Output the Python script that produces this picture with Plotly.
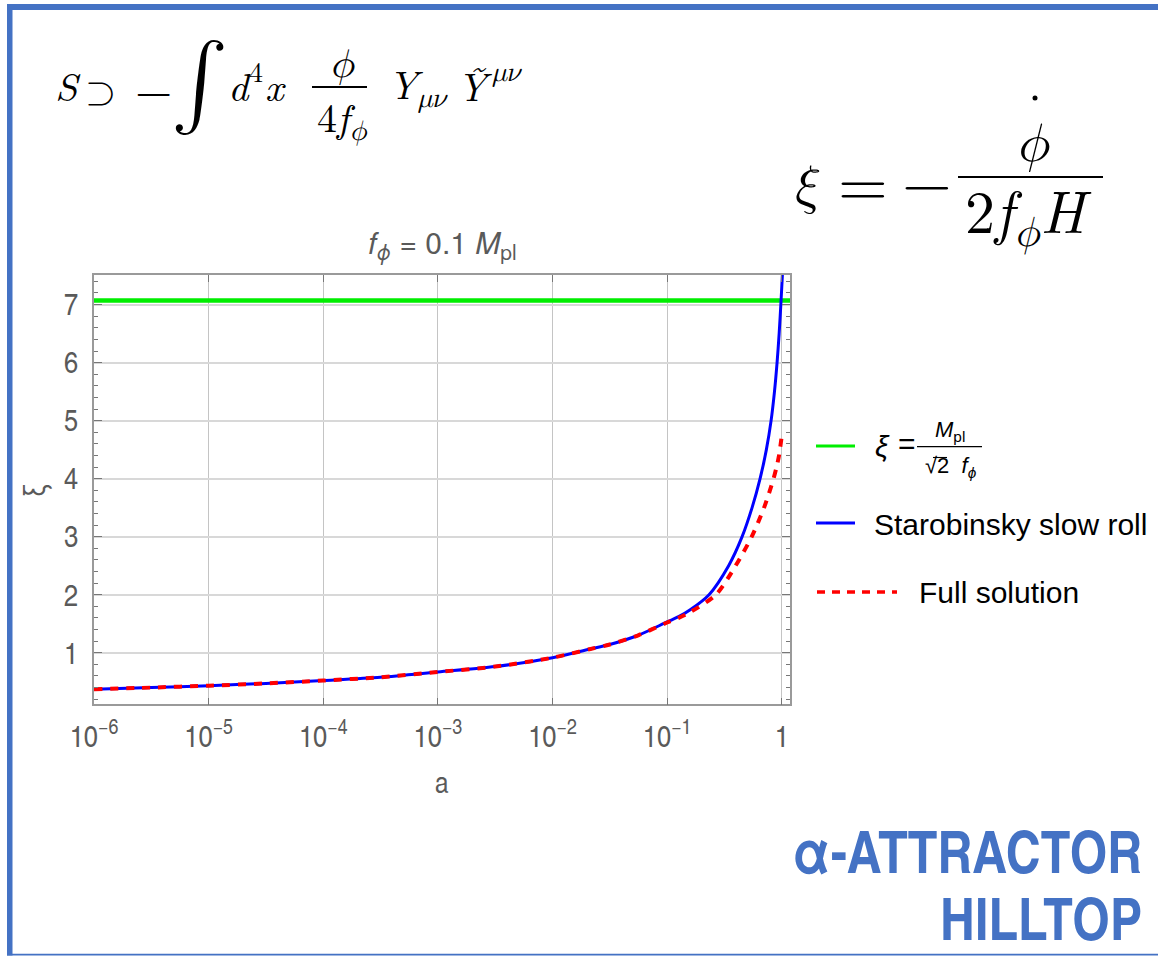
import numpy as np
import plotly.graph_objects as go

W, H = 1158, 956

# ---- data -------------------------------------------------------------
f_phi = 0.1                                   # decay constant in units of M_pl
xi_end = 1.0 / (np.sqrt(2.0) * f_phi)         # xi = M_pl / (sqrt(2) f_phi)

a_slow_roll = [1e-6, 3.16e-6, 1e-5, 3.16e-5, 1e-4, 3.16e-4, 1e-3, 3.16e-3,
               1e-2, 2.1e-2, 3.16e-2, 5.6e-2, 0.1, 0.126, 0.159, 0.232,
               0.344, 0.451, 0.551, 0.647, 0.734, 0.807, 0.864, 0.910,
               0.949, 0.986, 1.012, 1.037]
xi_slow_roll = [0.369, 0.398, 0.431, 0.47, 0.52, 0.576, 0.667, 0.76,
                0.914, 1.06, 1.14, 1.30, 1.53, 1.62, 1.74, 2.0,
                2.5, 3.0, 3.5, 4.0, 4.5, 5.0, 5.5, 6.0,
                6.5, 7.07, 7.5, 7.9]

a_full = [1e-6, 3.16e-6, 1e-5, 3.16e-5, 1e-4, 3.16e-4, 1e-3, 3.16e-3,
          1e-2, 2.1e-2, 3.16e-2, 5.6e-2, 0.1, 0.126, 0.159, 0.267, 0.396,
          0.547, 0.701, 0.848, 0.901, 0.947, 1.0]
xi_full = [0.369, 0.398, 0.431, 0.47, 0.52, 0.576, 0.667, 0.76,
           0.914, 1.06, 1.14, 1.30, 1.52, 1.60, 1.70, 2.0, 2.5,
           3.0, 3.5, 4.0, 4.2, 4.4, 4.74]

x_tick_vals = [1e-6, 1e-5, 1e-4, 1e-3, 1e-2, 1e-1, 1]
x_tick_text = ["10<sup>−6</sup>", "10<sup>−5</sup>", "10<sup>−4</sup>",
               "10<sup>−3</sup>", "10<sup>−2</sup>", "10<sup>−1</sup>", "1"]
a_min, a_max = 1e-6, 1.18

# ---- styling ----------------------------------------------------------
SERIF = "Latin Modern Roman, Latin Modern Math, TeX Gyre Termes, serif"
SANS = "Liberation Sans, Arial, sans-serif"
HEROS = "TeX Gyre Heros, Liberation Sans, sans-serif"
NARROW = "TeX Gyre Heros Cn, Liberation Sans, sans-serif"
FRAME_BLUE = "#4472C4"
GREY_TXT = "#5a5a5a"


def px(x):
    return x / W


def py(y):
    return 1 - y / H


annotations = []
shapes = []


def text(x, y, s, size, color="black", family=SERIF, xanchor="left",
         yanchor="middle", angle=0, weight=None):
    font = dict(size=size, color=color, family=family)
    if weight:
        font["weight"] = weight
    annotations.append(dict(x=px(x), y=py(y), xref="paper", yref="paper",
                            text=s, showarrow=False, xanchor=xanchor,
                            yanchor=yanchor, textangle=angle, font=font))


def hline(x0, x1, y, color="black", width=1.5, dash=None):
    line = dict(color=color, width=width)
    if dash:
        line["dash"] = dash
    shapes.append(dict(type="line", xref="paper", yref="paper",
                       x0=px(x0), x1=px(x1), y0=py(y), y1=py(y), line=line))


def rect(x0, y0, x1, y1, color):
    shapes.append(dict(type="rect", xref="paper", yref="paper",
                       x0=px(x0), x1=px(x1), y0=py(y0), y1=py(y1),
                       fillcolor=color, line=dict(width=0), layer="below"))


# ---- traces -----------------------------------------------------------
fig = go.Figure()
fig.add_trace(go.Scatter(x=[a_min, a_max], y=[xi_end, xi_end], mode="lines",
                         line=dict(color="#00ee00", width=4.5),
                         showlegend=False, hoverinfo="skip"))
fig.add_trace(go.Scatter(x=a_slow_roll, y=xi_slow_roll, mode="lines",
                         line=dict(color="#0000ff", width=3, shape="spline",
                                   smoothing=0.8),
                         showlegend=False))
fig.add_trace(go.Scatter(x=a_full, y=xi_full, mode="lines",
                         line=dict(color="#ff0000", width=4, dash="8px,8px",
                                   shape="spline", smoothing=0.8),
                         showlegend=False))

# ---- slide frame --------------------------------------------------------
rect(7, 4, W, 10, FRAME_BLUE)
rect(7, 4, 12.5, 955.5, FRAME_BLUE)
rect(7, 953.8, W, 955.5, FRAME_BLUE)

# ---- action term ---------------------------------------------------------
text(53, 85, "<i>S</i>", 40)
text(100, 87, "⊃", 40, xanchor="center")
text(153, 87, "−", 48, xanchor="center")
text(199, 74, "∫", 86, xanchor="center")
text(226, 85, "<i>d</i>", 40)
text(256, 70, "4", 28, xanchor="center")
text(263, 85, "<i>x</i>", 40)
text(342, 60, "<i>ϕ</i>", 40, xanchor="center")
hline(312, 367, 87, width=1.8)
text(342, 117, "4<i>f</i><sub><i>ϕ</i></sub>", 40, xanchor="center")
text(386, 85, "<i>Y</i><sub><i>μν</i></sub>", 40)
text(455, 85, "<i>Ỹ</i>", 40)
text(490, 69, "<i>μν</i>", 28)

# ---- definition of xi ----------------------------------------------------
text(805, 181, "<i>ξ</i>", 54, xanchor="center")
text(863, 179, "=", 64, xanchor="center")
text(927, 177, "−", 64, xanchor="center")
hline(958, 1103, 177, width=2)
text(1032, 138, "<i>ϕ</i>", 54, xanchor="center")
shapes.append(dict(type="circle", xref="paper", yref="paper",
                   x0=px(1032.5), x1=px(1037.5), y0=py(95.5), y1=py(100.5),
                   fillcolor="black", line=dict(width=0)))
text(1028, 212, "2<i>f</i><sub><i>ϕ</i></sub><i>H</i>", 60, xanchor="center")

# ---- plot title and axis labels -----------------------------------------
text(442, 243, "<i>f</i><sub><i>ϕ</i></sub> = 0.1 <i>M</i><sub>pl</sub>", 30,
     color=GREY_TXT, family=HEROS, xanchor="center")
text(442, 780, "a", 30, color=GREY_TXT, family=NARROW, xanchor="center")
text(32, 490, "ξ", 30, color=GREY_TXT, family=NARROW, xanchor="center",
     angle=-90)

# ---- legend ------------------------------------------------------------------
hline(816, 855, 446, color="#00ee00", width=3)
text(873, 446, "<i>ξ</i>", 30, family=SANS)
text(896, 444, "=", 30, family=SANS)
hline(917, 982, 446.7, width=1.2)
text(950, 431, "<i>M</i><sub>pl</sub>", 22, family=SANS, xanchor="center")
text(951, 467, "√2  <i>f</i><sub><i>ϕ</i></sub>", 22, family=SANS,
     xanchor="center")
hline(933, 947, 457.5, width=1.1)

hline(816, 855, 523, color="#0000ff", width=3)
text(872, 524, "Starobinsky slow roll", 30, family=SANS)

hline(817, 897, 592, color="#ff0000", width=3.5, dash="8px,7px")
text(917, 592, "Full solution", 30, family=SANS)

# ---- model label ----------------------------------------------------------
text(1144, 849, "α-ATTRACTOR", 59, color=FRAME_BLUE, family=NARROW,
     xanchor="right", weight="bold")
text(1144, 916, "HILLTOP", 59, color=FRAME_BLUE, family=NARROW,
     xanchor="right", weight="bold")

# ---- axes --------------------------------------------------------------------
fig.update_layout(
    width=W, height=H,
    margin=dict(l=0, r=0, t=0, b=0, pad=0),
    paper_bgcolor="white", plot_bgcolor="white",
    showlegend=False,
    annotations=annotations, shapes=shapes,
    xaxis=dict(
        type="log", range=[np.log10(a_min), np.log10(a_max)],
        domain=[px(94), px(790)], automargin=False,
        tickmode="array", tickvals=x_tick_vals, ticktext=x_tick_text,
        ticks="inside", ticklen=7, tickwidth=1, tickcolor="#777",
        showline=True, linecolor="#9a9a9a", linewidth=1.5, mirror="allticks",
        showgrid=True, gridcolor="#c4c4c4", gridwidth=1, zeroline=False,
        tickfont=dict(size=31, color=GREY_TXT, family=NARROW),
        ticklabelstandoff=4,
    ),
    yaxis=dict(
        range=[0.11, 7.51],
        domain=[py(704.3), py(275)], automargin=False,
        tickmode="linear", tick0=0, dtick=1,
        ticks="inside", ticklen=8, tickwidth=1, tickcolor="#777",
        minor=dict(tick0=0, dtick=0.2, ticks="inside", ticklen=4,
                   tickcolor="#777", showgrid=False),
        showline=True, linecolor="#9a9a9a", linewidth=1.5, mirror="allticks",
        showgrid=True, gridcolor="#d8d8d8", gridwidth=1.5, zeroline=False,
        tickfont=dict(size=31, color=GREY_TXT, family=NARROW),
        ticklabelstandoff=8,
    ),
)

fig.write_html("out.html")
